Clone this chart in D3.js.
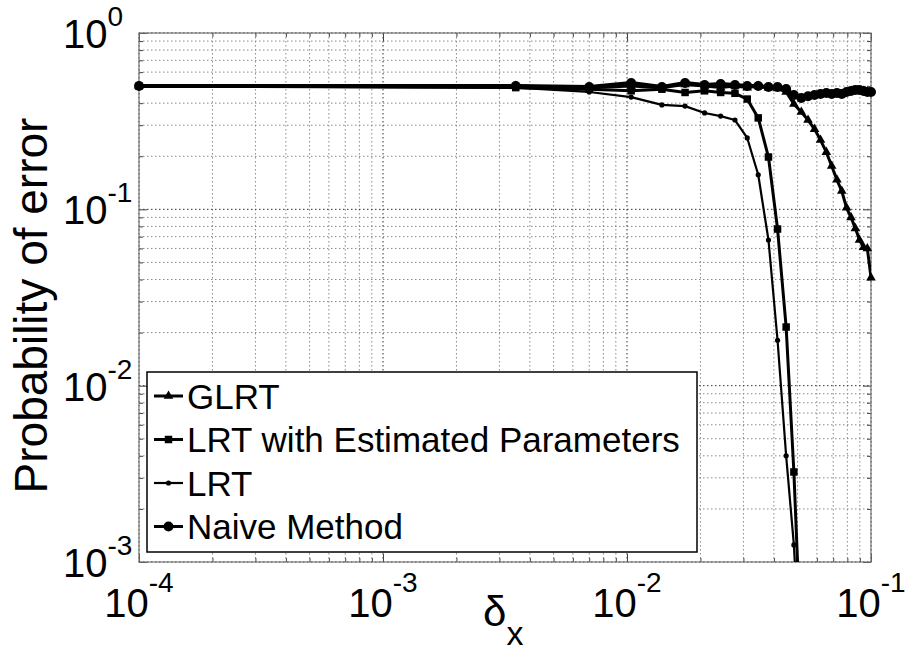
<!DOCTYPE html>
<html>
<head>
<meta charset="utf-8">
<script src="https://cdn.jsdelivr.net/npm/d3@7"></script>
<style>
  body { margin: 0; background: #fff; }
  text { font-family: "Liberation Sans", Arial, sans-serif; fill: #000; }
</style>
</head>
<body>
<div id="chart"></div>
<script>
// delta_x values (shared by all series)
var deltaX = [0.0001, 0.0035, 0.0070, 0.0104, 0.0139, 0.0173, 0.0208, 0.0242, 0.0277, 0.0311,
  0.0345, 0.0380, 0.0414, 0.0449, 0.0483, 0.0518, 0.0552, 0.0587, 0.0621, 0.0656,
  0.0690, 0.0725, 0.0759, 0.0794, 0.0828, 0.0863, 0.0897, 0.0932, 0.0966, 0.1000];

var glrt = [0.50, 0.50, 0.49, 0.50, 0.49, 0.51, 0.50, 0.49, 0.50, 0.49,
  0.50, 0.49, 0.485, 0.463, 0.396, 0.356, 0.321, 0.285, 0.247, 0.211,
  0.176, 0.147, 0.127, 0.102, 0.090, 0.078, 0.067, 0.061, 0.060, 0.041];

var lrtEst = [0.50, 0.49, 0.48, 0.47, 0.48, 0.46, 0.47, 0.46, 0.455, 0.422,
  0.33, 0.198, 0.0773, 0.0215, 0.00324, 0.0003, null, null, null, null,
  null, null, null, null, null, null, null, null, null, null];

var lrt = [0.50, 0.49, 0.463, 0.433, 0.391, 0.385, 0.352, 0.338, 0.321, 0.254,
  0.157, 0.067, 0.0181, 0.0040, 0.00125, 0.0002, null, null, null, null,
  null, null, null, null, null, null, null, null, null, null];

var naive = [0.50, 0.50, 0.494, 0.52, 0.494, 0.52, 0.507, 0.513, 0.507, 0.50,
  0.50, 0.494, 0.494, 0.481, 0.445, 0.428, 0.438, 0.445, 0.451, 0.457,
  0.451, 0.457, 0.451, 0.463, 0.469, 0.475, 0.475, 0.469, 0.463, 0.463];

var legendNames = ["GLRT", "LRT with Estimated Parameters", "LRT", "Naive Method"];
var xTickExp = [-4, -3, -2, -1];
var yTickExp = [0, -1, -2, -3];

var width = 907, height = 653;
var plotL = 139, plotR = 871, plotT = 33, plotB = 562;

var svg = d3.select("#chart").append("svg")
  .attr("width", width)
  .attr("height", height);

var x = d3.scaleLog().domain([1e-4, 1e-1]).range([plotL, plotR]);
var y = d3.scaleLog().domain([1e-3, 1]).range([plotB, plotT]);

function isDecade(v) {
  var l = Math.log10(v);
  return Math.abs(l - Math.round(l)) < 1e-6;
}
var xMajor = xTickExp.map(function (e) { return Math.pow(10, e); });
var yMajor = yTickExp.map(function (e) { return Math.pow(10, e); });
var xMinor = x.ticks().filter(function (v) { return !isDecade(v); });
var yMinor = y.ticks().filter(function (v) { return !isDecade(v); });

// grid
var grid = svg.append("g");
function vGrid(vals, col) {
  grid.selectAll(null).data(vals).enter().append("line")
    .attr("x1", function (d) { return x(d); }).attr("x2", function (d) { return x(d); })
    .attr("y1", plotT).attr("y2", plotB)
    .attr("stroke", col).attr("stroke-dasharray", "1.5,2.5");
}
function hGrid(vals, col) {
  grid.selectAll(null).data(vals).enter().append("line")
    .attr("y1", function (d) { return y(d); }).attr("y2", function (d) { return y(d); })
    .attr("x1", plotL).attr("x2", plotR)
    .attr("stroke", col).attr("stroke-dasharray", "1.5,2.5");
}
vGrid(xMinor, "#888");
hGrid(yMinor, "#888");
vGrid(xMajor, "#333");
hGrid(yMajor, "#333");

// axes with inward ticks on all sides
function tickAxis(axis, pos, size) {
  svg.append("g").attr("transform", pos)
    .call(axis.tickSize(size).tickFormat(""))
    .call(function (g) { g.select(".domain").remove(); g.selectAll("line").attr("stroke", "#444"); });
}
tickAxis(d3.axisBottom(x).tickValues(xMinor), "translate(0," + plotB + ")", -4);
tickAxis(d3.axisBottom(x).tickValues(xMajor), "translate(0," + plotB + ")", -8);
tickAxis(d3.axisTop(x).tickValues(xMinor), "translate(0," + plotT + ")", -4);
tickAxis(d3.axisTop(x).tickValues(xMajor), "translate(0," + plotT + ")", -8);
tickAxis(d3.axisLeft(y).tickValues(yMinor), "translate(" + plotL + ",0)", -4);
tickAxis(d3.axisLeft(y).tickValues(yMajor), "translate(" + plotL + ",0)", -8);
tickAxis(d3.axisRight(y).tickValues(yMinor), "translate(" + plotR + ",0)", -4);
tickAxis(d3.axisRight(y).tickValues(yMajor), "translate(" + plotR + ",0)", -8);

svg.append("rect")
  .attr("x", plotL).attr("y", plotT)
  .attr("width", plotR - plotL).attr("height", plotB - plotT)
  .attr("fill", "none").attr("stroke", "#777").attr("stroke-width", 1.2);

// tick labels
xTickExp.forEach(function (e) {
  var t = svg.append("text")
    .attr("x", x(Math.pow(10, e))).attr("y", plotB + 55)
    .attr("text-anchor", "middle").attr("font-size", 40);
  t.append("tspan").text("10");
  t.append("tspan").attr("dy", -25).attr("font-size", 28).text(e === 0 ? "0" : "-" + Math.abs(e));
});
yTickExp.forEach(function (e) {
  var t = svg.append("text")
    .attr("x", 63).attr("y", y(Math.pow(10, e)) + 15)
    .attr("font-size", 40);
  t.append("tspan").text("10");
  t.append("tspan").attr("dy", -22).attr("font-size", 28).text(e === 0 ? "0" : "-" + Math.abs(e));
});

// axis titles
svg.append("text")
  .attr("transform", "translate(47," + ((plotT + plotB) / 2 + 8) + ") rotate(-90)")
  .attr("text-anchor", "middle").attr("font-size", 46)
  .text("Probability of error");
var xl = svg.append("text").attr("x", 483).attr("y", 626).attr("font-size", 42);
xl.append("tspan").text("δ");
xl.append("tspan").attr("dy", 19).attr("font-size", 34).text("x");

// series
var series = [
  { name: legendNames[0], values: glrt, width: 3, marker: "triangle" },
  { name: legendNames[1], values: lrtEst, width: 3, marker: "square" },
  { name: legendNames[2], values: lrt, width: 2.2, marker: "dot" },
  { name: legendNames[3], values: naive, width: 4, marker: "circle" }
];

svg.append("clipPath").attr("id", "plotclip").append("rect")
  .attr("x", plotL).attr("y", plotT).attr("width", plotR - plotL).attr("height", plotB - plotT);

var line = d3.line()
  .defined(function (d) { return d[1] != null; })
  .x(function (d) { return x(d[0]); })
  .y(function (d) { return y(d[1]); });

function drawMarker(g, type, cx, cy) {
  if (type === "circle") {
    g.append("circle").attr("cx", cx).attr("cy", cy).attr("r", 5).attr("fill", "#000");
  } else if (type === "dot") {
    g.append("circle").attr("cx", cx).attr("cy", cy).attr("r", 2.6).attr("fill", "#000");
  } else {
    var sym = type === "square" ? d3.symbolSquare : d3.symbolTriangle;
    var sz = type === "square" ? 56 : 40;
    g.append("path").attr("d", d3.symbol().type(sym).size(sz)())
      .attr("transform", "translate(" + cx + "," + cy + ")").attr("fill", "#000");
  }
}

series.forEach(function (s) {
  var pts = deltaX.map(function (xv, i) { return [xv, s.values[i]]; });
  svg.append("path")
    .attr("clip-path", "url(#plotclip)")
    .attr("d", line(pts))
    .attr("fill", "none").attr("stroke", "#000")
    .attr("stroke-width", s.width).attr("stroke-linejoin", "round");
  var g = svg.append("g");
  pts.forEach(function (p) {
    if (p[1] != null && p[1] >= 1e-3) drawMarker(g, s.marker, x(p[0]), y(p[1]));
  });
});

// legend
var lg = svg.append("g");
lg.append("rect").attr("x", 147).attr("y", 372).attr("width", 550).attr("height", 180)
  .attr("fill", "#fff").attr("stroke", "#000").attr("stroke-width", 1.5);
series.forEach(function (s, i) {
  var cy = 396 + i * 43.5;
  lg.append("line").attr("x1", 154).attr("x2", 183).attr("y1", cy).attr("y2", cy)
    .attr("stroke", "#000").attr("stroke-width", s.width === 4 ? 3 : s.width);
  drawMarker(lg, s.marker, 168.5, cy);
  lg.append("text").attr("x", 187).attr("y", cy + 12.5).attr("font-size", 35).text(s.name);
});
</script>
</body>
</html>
